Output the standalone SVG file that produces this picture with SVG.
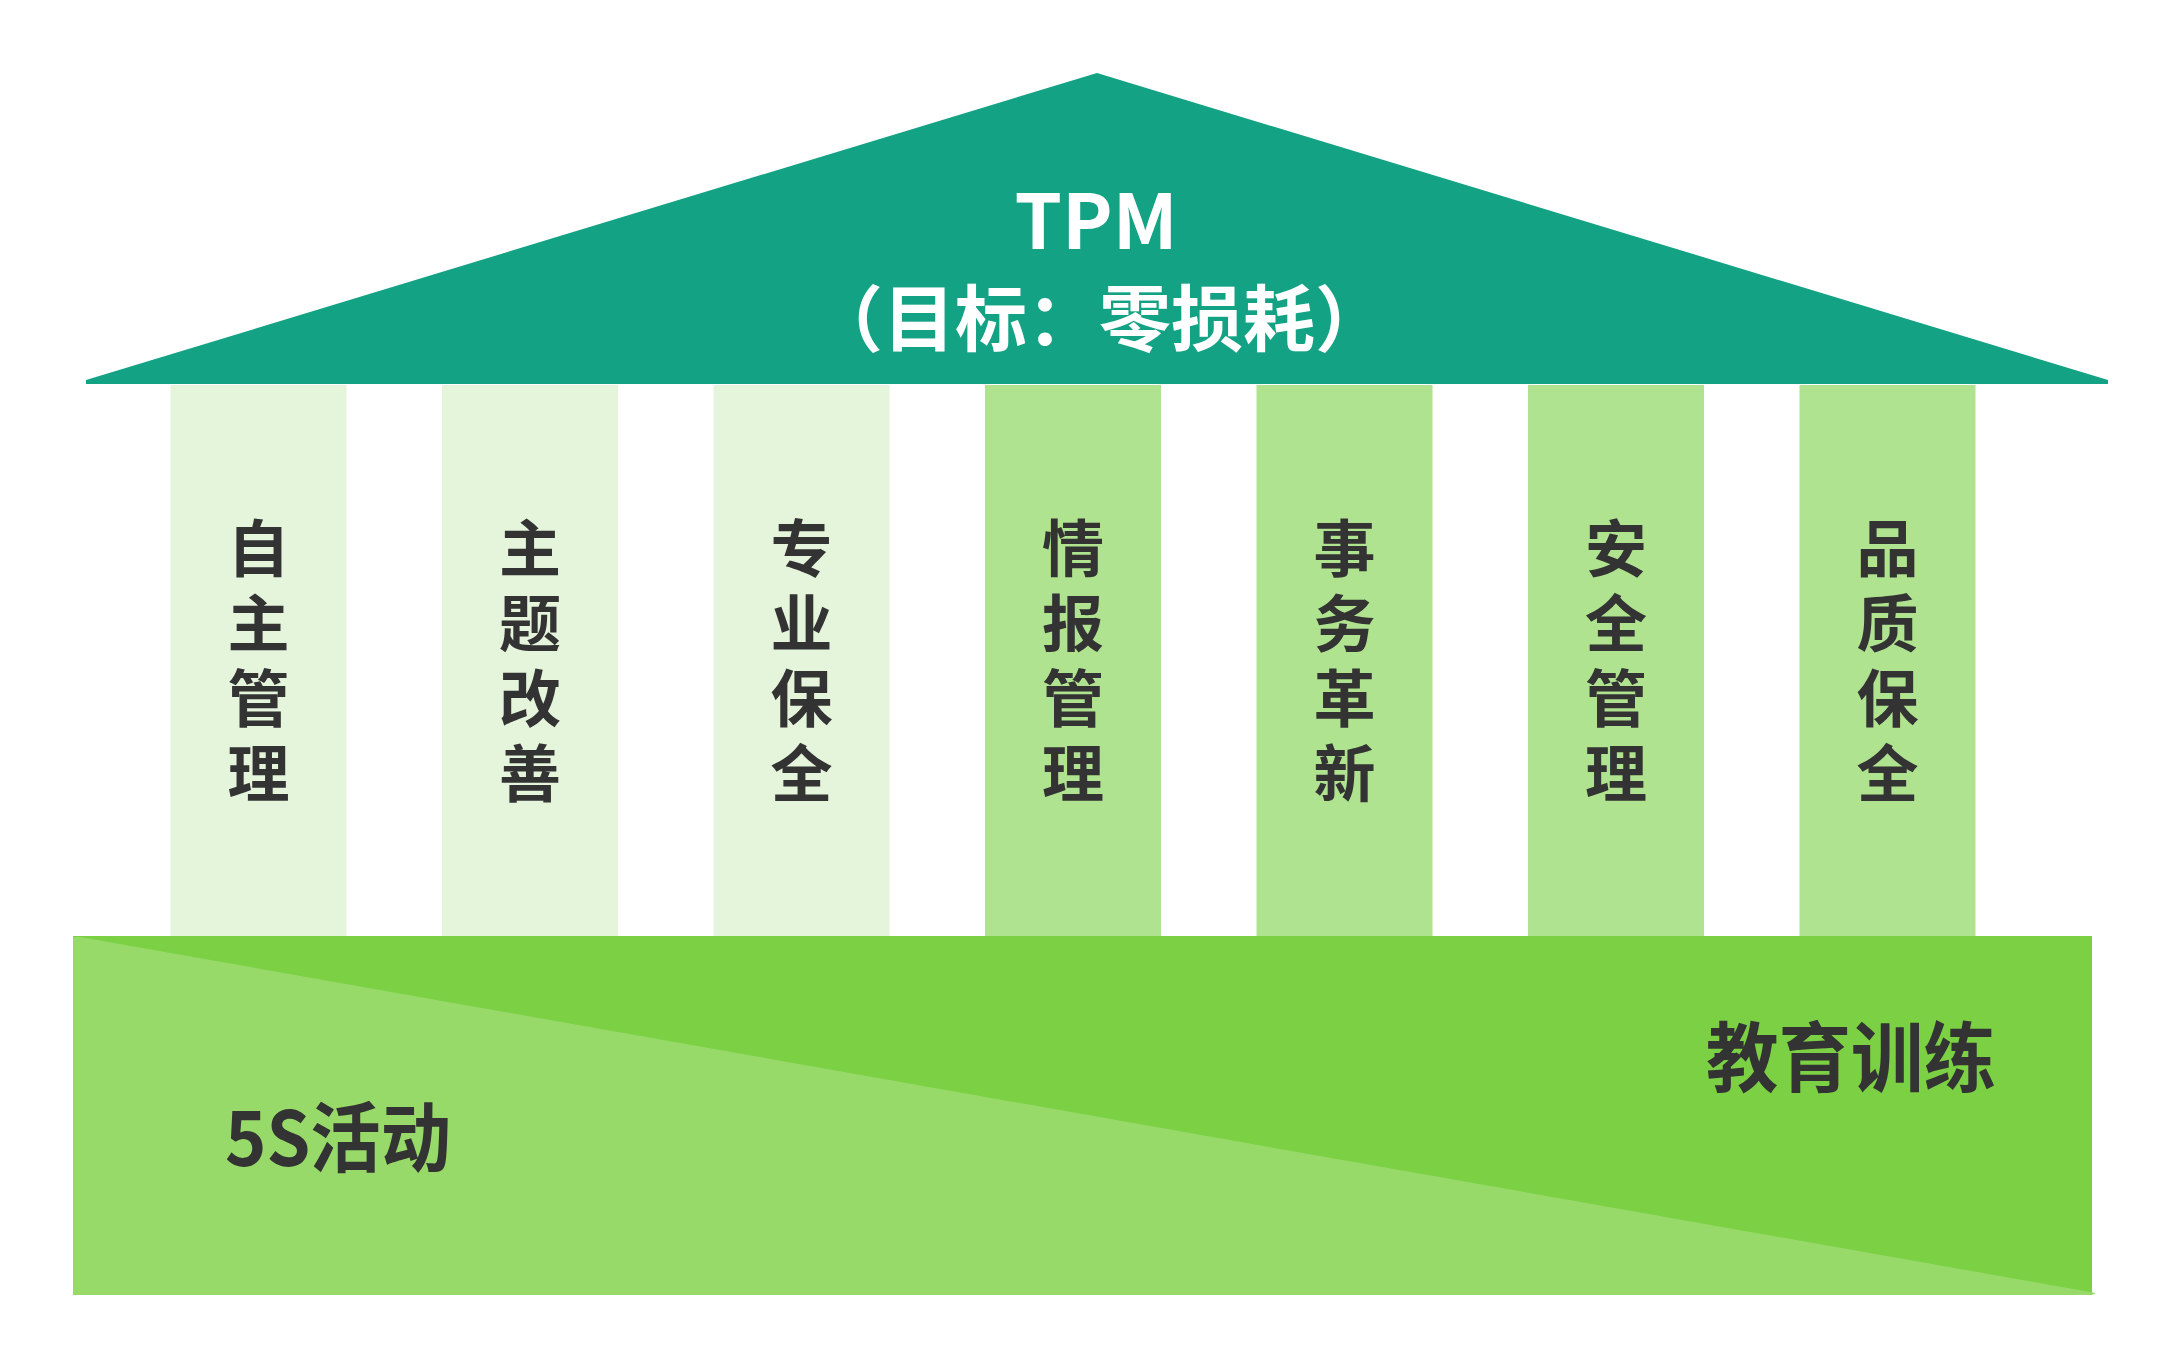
<svg xmlns="http://www.w3.org/2000/svg" width="2182" height="1369" viewBox="0 0 2182 1369">
<style>
.cjk{font-family:"Noto Sans CJK SC","Noto Sans",sans-serif;font-weight:700}
.pill-text{font-size:62px;fill:#333333;writing-mode:vertical-rl;text-orientation:upright;letter-spacing:13px}
.light{fill:#E5F5DC}
.dark{fill:#B0E38F}
.base-text{font-size:76px;fill:#333333}
.roof-text{fill:#FFFFFF;text-anchor:middle}
</style>
<rect width="2182" height="1369" fill="#FFFFFF"/>
<g id="roof">
<polygon points="86,380 1097,73 2108,380 2108,384 86,384" fill="#13A384"/>
<text class="cjk roof-text" x="1096" y="249" font-size="76">TPM</text>
<text class="cjk roof-text" x="1099" y="345" font-size="72">（目标：零损耗）</text>
</g>
<g id="pillar-1">
<rect class="light" x="170.5" y="385" width="176" height="551"/>
<text class="cjk pill-text" x="258.5" y="517">自主管理</text>
</g>
<g id="pillar-2">
<rect class="light" x="442" y="385" width="176" height="551"/>
<text class="cjk pill-text" x="530" y="517">主题改善</text>
</g>
<g id="pillar-3">
<rect class="light" x="713.5" y="385" width="176" height="551"/>
<text class="cjk pill-text" x="801.5" y="517">专业保全</text>
</g>
<g id="pillar-4">
<rect class="dark" x="985" y="385" width="176" height="551"/>
<text class="cjk pill-text" x="1073" y="517">情报管理</text>
</g>
<g id="pillar-5">
<rect class="dark" x="1256.5" y="385" width="176" height="551"/>
<text class="cjk pill-text" x="1344.5" y="517">事务革新</text>
</g>
<g id="pillar-6">
<rect class="dark" x="1528" y="385" width="176" height="551"/>
<text class="cjk pill-text" x="1616" y="517">安全管理</text>
</g>
<g id="pillar-7">
<rect class="dark" x="1799.5" y="385" width="176" height="551"/>
<text class="cjk pill-text" x="1887.5" y="517">品质保全</text>
</g>
<g id="base">
<rect x="73" y="936" width="2019" height="359" fill="#7BD044"/>
<polygon points="73,937 80,937 2096,1293 2092,1295 73,1295" fill="#97DA6A"/>
<text class="cjk base-text" x="1706" y="1086" textLength="290" lengthAdjust="spacingAndGlyphs">教育训练</text>
<text class="cjk base-text" x="225" y="1166" textLength="226" lengthAdjust="spacingAndGlyphs">5S活动</text>
</g>
<g id="connectors"/>
</svg>
